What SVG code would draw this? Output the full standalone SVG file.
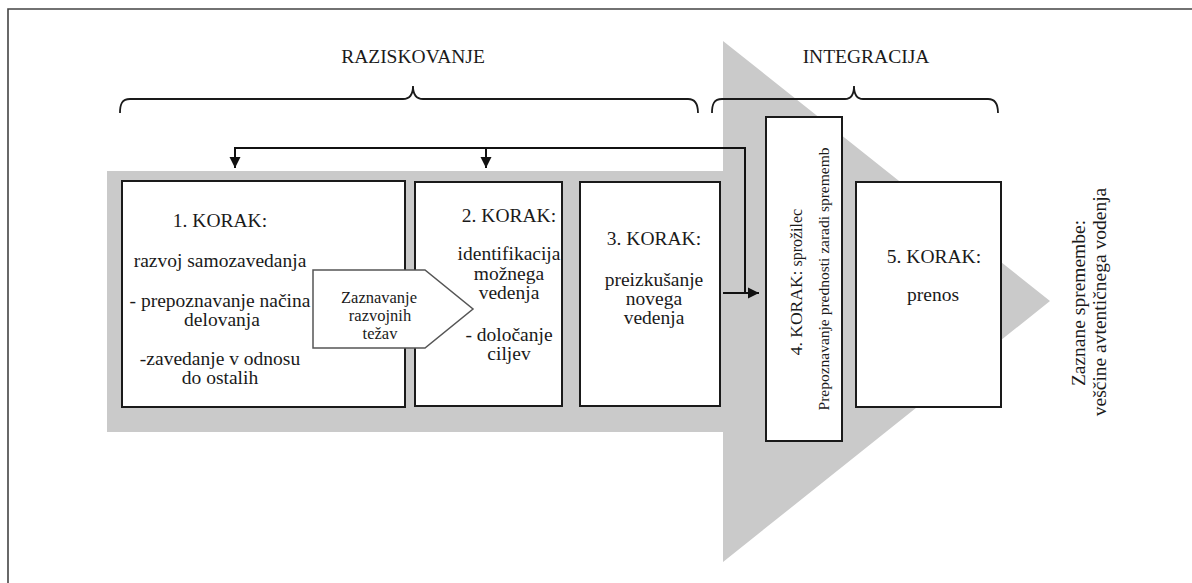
<svg xmlns="http://www.w3.org/2000/svg" width="1192" height="583" viewBox="0 0 1192 583">
<style>
  text { font-family: "Liberation Serif", "Times New Roman", serif; fill: #1a1a1a; }
  .t { font-family: "Liberation Serif", "Times New Roman", serif; font-size: 19.5px; text-anchor: middle; }
  .hd { font-family: "Liberation Serif", "Times New Roman", serif; font-size: 19.5px; text-anchor: middle; }
  .small { font-family: "Liberation Serif", "Times New Roman", serif; font-size: 16.5px; text-anchor: middle; }
  .box { fill: #ffffff; stroke: #1a1a1a; stroke-width: 2; }
  .brace { fill: none; stroke: #1a1a1a; stroke-width: 1.8; }
  .conn { fill: none; stroke: #111111; stroke-width: 2; }
</style>
<defs>
  <marker id="ah" markerUnits="userSpaceOnUse" markerWidth="12" markerHeight="12" refX="11" refY="6" orient="auto">
    <path d="M0,0.5 L11,6 L0,11.5 z" fill="#111111"/>
  </marker>
</defs>
<rect x="0" y="0" width="1192" height="583" fill="#ffffff"/>
<path d="M8,583 L8,9 L1192,9" fill="none" stroke="#444444" stroke-width="1.6"/>

<g id="big-arrow">
  <polygon points="107,171 723,171 723,41 1050,301 723,562 723,432 107,432" fill="#cacaca"/>
</g>

<g id="raziskovanje">
  <text class="hd" x="413" y="63">RAZISKOVANJE</text>
  <path class="brace" d="M120,113 C120,104 122,99 130,99 L403,99 C409,99 413,95 413,86 C413,95 417,99 423,99 L688,99 C695,99 698,104 698,113"/>
</g>

<g id="integracija">
  <text class="hd" x="866" y="63">INTEGRACIJA</text>
  <path class="brace" d="M712,113 C712,104 714,99 722,99 L845,99 C851,99 854,95 854,86 C854,95 857,99 863,99 L988,99 C995,99 998,104 998,113"/>
</g>

<g id="step1">
  <rect class="box" x="122" y="181" width="283" height="226"/>
  <text class="t" x="220" y="227">1. KORAK:</text>
  <text class="t" x="220" y="267">razvoj samozavedanja</text>
  <text class="t" x="220" y="307">- prepoznavanje načina</text>
  <text class="t" x="222" y="326">delovanja</text>
  <text class="t" x="220" y="365">-zavedanje v odnosu</text>
  <text class="t" x="220" y="384">do ostalih</text>
</g>

<g id="step2">
  <rect class="box" x="415" y="182" width="147" height="224"/>
  <text class="t" x="509" y="222">2. KORAK:</text>
  <text class="t" x="509" y="260">identifikacija</text>
  <text class="t" x="509" y="280">možnega</text>
  <text class="t" x="509" y="299">vedenja</text>
  <text class="t" x="509" y="341">- določanje</text>
  <text class="t" x="509" y="360">ciljev</text>
</g>

<g id="zaznavanje">
  <polygon points="313,270 425,270 473,309 425,348 313,348" fill="#ffffff" stroke="#555555" stroke-width="1.5"/>
  <text class="small" x="379" y="303">Zaznavanje</text>
  <text class="small" x="380" y="321">razvojnih</text>
  <text class="small" x="380" y="339">težav</text>
</g>

<g id="step3">
  <rect class="box" x="580" y="182" width="140" height="224"/>
  <text class="t" x="654" y="245">3. KORAK:</text>
  <text class="t" x="654" y="286">preizkušanje</text>
  <text class="t" x="654" y="305">novega</text>
  <text class="t" x="654" y="324">vedenja</text>
</g>

<g id="step4">
  <rect class="box" x="766" y="117" width="76" height="324"/>
  <text transform="translate(802,282) rotate(-90)" text-anchor="middle"><tspan font-size="17.5">4. KORAK:</tspan><tspan font-size="16"> sprožilec</tspan></text>
  <text transform="translate(829,279) rotate(-90)" text-anchor="middle" font-size="15.5">Prepoznavanje prednosti zaradi sprememb</text>
</g>

<g id="step5">
  <rect class="box" x="856" y="182" width="145" height="225"/>
  <text class="t" x="934" y="263">5. KORAK:</text>
  <text class="t" x="933" y="301">prenos</text>
</g>

<g id="outcome">
  <text transform="translate(1085,303) rotate(-90)" text-anchor="middle" font-size="19.5">Zaznane spremembe:</text>
  <text transform="translate(1106,302) rotate(-90)" text-anchor="middle" font-size="19.5">veščine avtentičnega vodenja</text>
</g>

<g id="connectors">
  <path class="conn" d="M745,293 L745,148 L235,148 L235,168" marker-end="url(#ah)"/>
  <path class="conn" d="M486,148 L486,168" marker-end="url(#ah)"/>
  <path class="conn" d="M723,293 L759,293" marker-end="url(#ah)"/>
</g>
</svg>
